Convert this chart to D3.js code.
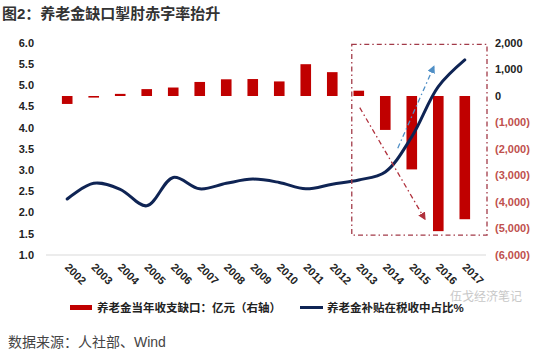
<!DOCTYPE html>
<html>
<head>
<meta charset="utf-8">
<script src="https://cdn.jsdelivr.net/npm/d3@7"></script>
<style>
  body { margin: 0; background: #fff; }
  svg { display: block; font-family: "Liberation Sans", "Noto Sans CJK SC", sans-serif; }
</style>
</head>
<body>
<svg id="chart" width="550" height="358"></svg>
<script>
const years = ["2002", "2003", "2004", "2005", "2006", "2007", "2008", "2009", "2010", "2011", "2012", "2013", "2014", "2015", "2016", "2017"];
// 养老金当年收支缺口 (亿元, right axis)
const gap = [-300, -60, 80, 260, 320, 530, 630, 640, 550, 1200, 900, 200, -1280, -2770, -5100, -4650];
// 养老金补贴在税收中占比 (%, left axis)
const share = [2.32, 2.69, 2.55, 2.16, 2.83, 2.56, 2.69, 2.79, 2.71, 2.56, 2.67, 2.77, 2.96, 3.79, 4.97, 5.6];
const leftTicks = [1.0, 1.5, 2.0, 2.5, 3.0, 3.5, 4.0, 4.5, 5.0, 5.5, 6.0];
const rightTicks = [-6000, -5000, -4000, -3000, -2000, -1000, 0, 1000, 2000];

const svg = d3.select("#chart");
const margin = { top: 43, right: 64, bottom: 103, left: 46 };
const width = +svg.attr("width");
const height = +svg.attr("height");

const x = d3.scaleBand()
    .domain(years)
    .range([margin.left, width - margin.right])
    .padding(0.6);
const cx = d => x(d) + x.bandwidth() / 2;

const yL = d3.scaleLinear().domain([1, 6]).range([height - margin.bottom, margin.top]);
const yR = d3.scaleLinear().domain([-6000, 2000]).range([height - margin.bottom, margin.top]);

const red = "#c00000";
const navy = "#0f2454";

// title
svg.append("text")
    .attr("x", 2).attr("y", 19)
    .attr("font-size", 15).attr("font-weight", "bold").attr("fill", "#333")
    .text("图2：养老金缺口掣肘赤字率抬升");

// bottom line
svg.append("line")
    .attr("x1", margin.left).attr("x2", width - margin.right)
    .attr("y1", yL(1)).attr("y2", yL(1))
    .attr("stroke", "#d9d9d9").attr("stroke-width", 1);

// left axis labels
svg.append("g")
    .selectAll("text")
    .data(leftTicks)
    .enter().append("text")
    .attr("x", 34)
    .attr("y", d => yL(d))
    .attr("dy", "0.35em")
    .attr("text-anchor", "end")
    .attr("font-size", 11).attr("font-weight", "bold").attr("fill", "#222")
    .text(d => d.toFixed(1));

// right axis labels
svg.append("g")
    .selectAll("text")
    .data(rightTicks)
    .enter().append("text")
    .attr("x", 495)
    .attr("y", d => yR(d))
    .attr("dy", "0.35em")
    .attr("font-size", 11).attr("font-weight", "bold")
    .attr("fill", d => d < 0 ? "#c0504d" : "#222")
    .text(d => d < 0 ? "(" + d3.format(",")(-d) + ")" : d3.format(",")(d));

// x labels, rotated
svg.append("g")
    .selectAll("text")
    .data(years)
    .enter().append("text")
    .attr("transform", d => `translate(${cx(d) - 3},${yL(1) + 13}) rotate(45)`)
    .attr("font-size", 11).attr("font-weight", "bold").attr("fill", "#222")
    .text(d => d);

// bars
svg.selectAll(".bar")
    .data(years)
    .enter().append("rect")
    .attr("class", "bar")
    .attr("x", d => x(d))
    .attr("width", x.bandwidth())
    .attr("y", (d, i) => yR(Math.max(0, gap[i])))
    .attr("height", (d, i) => Math.abs(yR(gap[i]) - yR(0)))
    .attr("fill", red);

// line
const line = d3.line()
    .x((d, i) => cx(years[i]))
    .y(d => yL(d))
    .curve(d3.curveCatmullRom.alpha(0.5));

svg.append("path")
    .datum(share)
    .attr("d", line)
    .attr("fill", "none")
    .attr("stroke", navy)
    .attr("stroke-width", 3)
    .attr("stroke-linecap", "round");

// highlight box
const boxX0 = cx("2013") - 7;
const boxX1 = width - margin.right + 1;
svg.append("rect")
    .attr("x", boxX0).attr("y", yR(1950))
    .attr("width", boxX1 - boxX0)
    .attr("height", yR(-5250) - yR(1950))
    .attr("fill", "none")
    .attr("stroke", "#a23a48").attr("stroke-width", 1.3)
    .attr("stroke-dasharray", "5,3,1.5,3");

// arrows
const defs = svg.append("defs");
[["arrRed", "#b0303c"], ["arrBlue", "#4f8fc6"]].forEach(([id, col]) => {
    defs.append("marker")
        .attr("id", id)
        .attr("viewBox", "0 0 10 10")
        .attr("refX", 8).attr("refY", 5)
        .attr("markerWidth", 6).attr("markerHeight", 6)
        .attr("orient", "auto")
        .append("path")
        .attr("d", "M0,0L10,5L0,10z")
        .attr("fill", col);
});

svg.append("line")
    .attr("x1", cx("2013") + 1).attr("y1", yR(-440))
    .attr("x2", cx("2015") + 13).attr("y2", yR(-4640))
    .attr("stroke", "#b0303c").attr("stroke-width", 1.3)
    .attr("stroke-dasharray", "5,3,1.5,3")
    .attr("marker-end", "url(#arrRed)");

svg.append("line")
    .attr("x1", cx("2015") - 14).attr("y1", yL(3.52))
    .attr("x2", cx("2016") - 4.5).attr("y2", yL(5.44))
    .attr("stroke", "#4f8fc6").attr("stroke-width", 1.3)
    .attr("stroke-dasharray", "5,3,1.5,3")
    .attr("marker-end", "url(#arrBlue)");

// legend
const legend = svg.append("g").attr("font-size", 11.5).attr("font-weight", "bold").attr("fill", "#222");
legend.append("rect")
    .attr("x", 70).attr("y", 305).attr("width", 22).attr("height", 5)
    .attr("fill", red);
legend.append("text")
    .attr("x", 97).attr("y", 312)
    .text("养老金当年收支缺口：亿元（右轴）");
legend.append("line")
    .attr("x1", 300).attr("x2", 323).attr("y1", 307.5).attr("y2", 307.5)
    .attr("stroke", navy).attr("stroke-width", 3);
legend.append("text")
    .attr("x", 327).attr("y", 312)
    .text("养老金补贴在税收中占比%");

// watermark
svg.append("text")
    .attr("x", 450).attr("y", 301)
    .attr("font-size", 12).attr("fill", "#c8c8c8")
    .text("伍戈经济笔记");

// source
svg.append("text")
    .attr("x", 8).attr("y", 347)
    .attr("font-size", 14).attr("fill", "#444")
    .text("数据来源：人社部、Wind");
</script>
</body>
</html>
